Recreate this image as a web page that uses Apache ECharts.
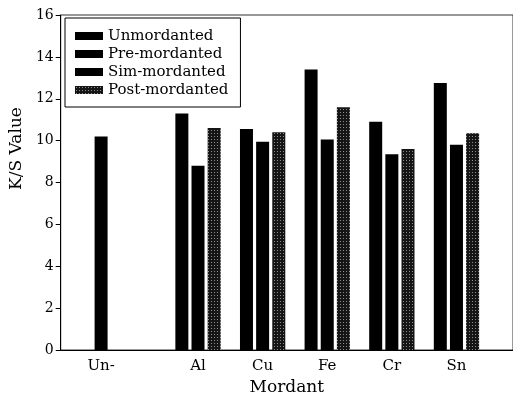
<!DOCTYPE html>
<html>
<head>
<meta charset="utf-8">
<script src="https://cdn.jsdelivr.net/npm/echarts@6/dist/echarts.min.js"></script>
<style>
  html, body { margin: 0; padding: 0; background: #fff; }
  #chart { width: 513px; height: 401px; }
</style>
</head>
<body>
<div id="chart"></div>
<script>
// values
const unLabel = 'Un-'
const unmordanted = 10.2
const mordants = ['Al', 'Cu', 'Fe', 'Cr', 'Sn']
const preMordanted = [11.3, 10.55, 13.4, 10.9, 12.75]
const simMordanted = [8.8, 9.95, 10.05, 9.35, 9.8]
const postMordanted = [10.6, 10.4, 11.6, 9.6, 10.35]
const yTicks = [0, 2, 4, 6, 8, 10, 12, 14, 16]

// every bar gets its own slot on the category axis, groups are separated by empty slots
let slots = []      // slot ids
let slotLabel = {}  // slot id -> tick label
let un = [], pre = [], sim = [], post = []

function addSlot(label, u, p, s, q) {
  let id = 's' + slots.length
  slots.push(id)
  if (label) slotLabel[id] = label
  un.push(u); pre.push(p); sim.push(s); post.push(q)
}

addSlot('', null, null, null, null)
addSlot('', null, null, null, null)
addSlot(unLabel, unmordanted, null, null, null)
for (let i = 0; i < 4; i++) addSlot('', null, null, null, null)
for (let i = 0; i < mordants.length; i++) {
  addSlot('', null, preMordanted[i], null, null)
  addSlot(mordants[i], null, null, simMordanted[i], null)
  addSlot('', null, null, null, postMordanted[i])
  addSlot('', null, null, null, null)
}
addSlot('', null, null, null, null)

// dotted fill for the post-mordanted bars
const pat = document.createElement('canvas')
pat.width = 3
pat.height = 3
const pctx = pat.getContext('2d')
pctx.fillStyle = '#151515'
pctx.fillRect(0, 0, 3, 3)
pctx.fillStyle = '#8c8c8c'
pctx.fillRect(1, 1, 1, 1)

const font = 'DejaVu Serif'
const chart = echarts.init(document.getElementById('chart'), null, { renderer: 'canvas' })

function barSeries(name, data, color) {
  return {
    name: name,
    type: 'bar',
    data: data,
    barWidth: 13,
    barGap: '-100%',
    itemStyle: { color: color },
    animation: false
  }
}

const option = {
  backgroundColor: '#fff',
  animation: false,
  grid: {
    left: 58, right: -5, top: 15, bottom: 48,
    show: true,
    borderColor: '#333',
    borderWidth: 1
  },
  legend: {
    orient: 'vertical',
    left: 65,
    top: 18,
    align: 'left',
    padding: [9, 12, 8, 10],
    itemGap: 0,
    itemWidth: 28,
    itemHeight: 8,
    icon: 'rect',
    borderColor: '#000',
    borderWidth: 1,
    backgroundColor: '#fff',
    textStyle: { fontFamily: font, fontSize: 15, color: '#000', lineHeight: 18 },
    data: ['Unmordanted', 'Pre-mordanted', 'Sim-mordanted', 'Post-mordanted']
  },
  xAxis: {
    type: 'category',
    data: slots,
    name: 'Mordant',
    nameLocation: 'middle',
    nameGap: 29,
    nameTextStyle: { fontFamily: font, fontSize: 17, color: '#000' },
    axisLine: { lineStyle: { color: '#000', width: 1 } },
    axisTick: { show: false },
    axisLabel: {
      interval: 0,
      margin: 9,
      fontFamily: font,
      fontSize: 15,
      color: '#000',
      formatter: function (v) { return slotLabel[v] || '' }
    },
    splitLine: { show: false }
  },
  yAxis: {
    type: 'value',
    min: yTicks[0],
    max: yTicks[yTicks.length - 1],
    interval: 2,
    name: 'K/S Value',
    nameLocation: 'middle',
    nameGap: 28,
    nameTextStyle: { fontFamily: font, fontSize: 17, color: '#000', padding: [0, 0, 0, 68] },
    axisLine: { show: true, lineStyle: { color: '#000', width: 1 } },
    axisTick: { show: true, inside: false, length: 5, lineStyle: { color: '#000' } },
    axisLabel: { margin: 7, fontFamily: font, fontSize: 14, color: '#000' },
    splitLine: { show: false }
  },
  series: [
    barSeries('Unmordanted', un, '#000'),
    barSeries('Pre-mordanted', pre, '#000'),
    barSeries('Sim-mordanted', sim, '#000'),
    barSeries('Post-mordanted', post, { image: pat, repeat: 'repeat' })
  ]
}

chart.setOption(option)
</script>
</body>
</html>
